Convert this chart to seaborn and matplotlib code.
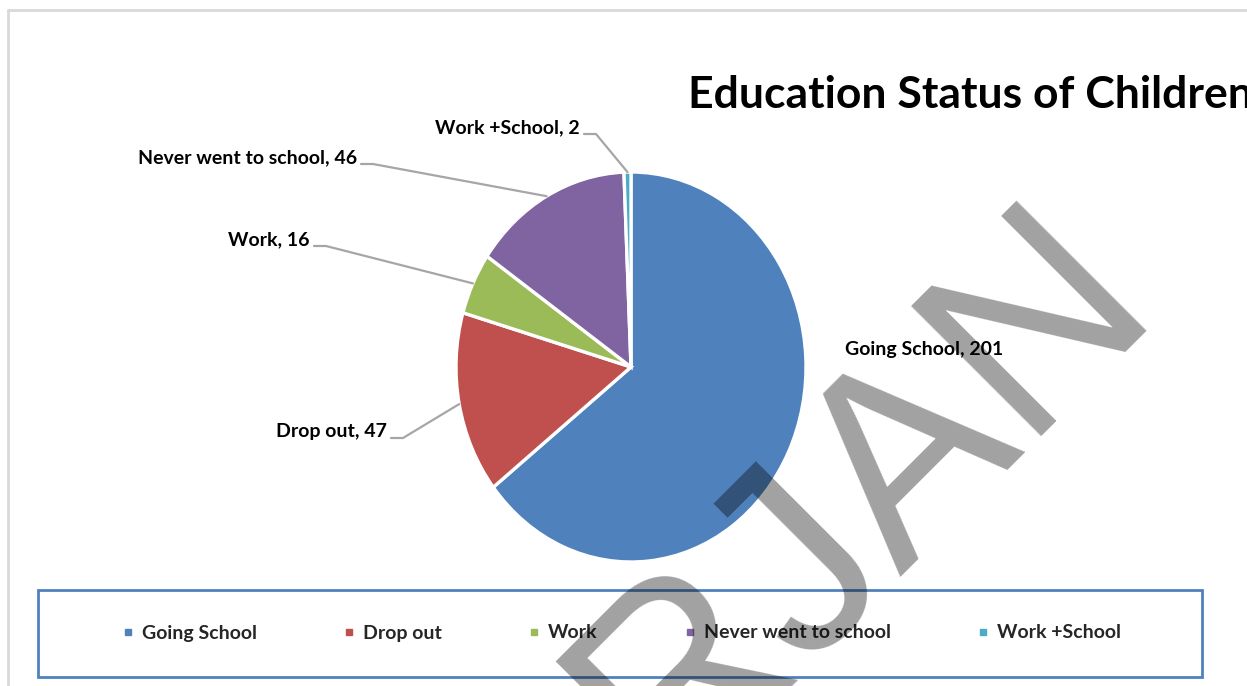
import numpy as np
import matplotlib
matplotlib.use("Agg")
import matplotlib.pyplot as plt
from matplotlib.lines import Line2D
from matplotlib.patches import Rectangle
import seaborn as sns

# ---------------- data ----------------
categories = ["Going School", "Drop out", "Work", "Never went to school", "Work +School"]
values = [201, 47, 16, 46, 2]
colors = ["#4F81BD", "#C0504D", "#9BBB59", "#8064A2", "#4BACC6"]
title_text = "Education Status of Children"
watermark_text = "RJAN"

sns.set_theme(style="white")
plt.rcParams["font.family"] = ["Lato", "DejaVu Sans"]

W, H = 1247, 686
fig = plt.figure(figsize=(W / 100, H / 100), dpi=100)
fig.patch.set_facecolor("white")

def fx(px):
    return px / W

def fy(py):
    return 1 - py / H

# outer light frame
fig.add_artist(Line2D([fx(8), 1], [fy(10), fy(10)], color="#D9D9D9", lw=2))
fig.add_artist(Line2D([fx(8), fx(8)], [fy(10), 0], color="#D9D9D9", lw=2))

# pie axes (slightly elliptical as in the reference)
cx, cy, rx, ry = 631, 367, 175, 195
ax = fig.add_axes([fx(cx - rx), fy(cy + ry), 2 * rx / W, 2 * ry / H])
wedges, _ = ax.pie(values, colors=colors, startangle=90, counterclock=False,
                   wedgeprops=dict(edgecolor="white", linewidth=2.4))
ax.set_aspect("auto")
ax.set_xlim(-1, 1)
ax.set_ylim(-1, 1)
ax.axis("off")

# data labels
label_pos = {
    # name: (text anchor x px, text center y px, ha, leader)
    "Going School": (845, 350, "left", False),
    "Drop out": (387, 432, "right", True),
    "Work": (310, 240, "right", True),
    "Never went to school": (357, 158, "right", True),
    "Work +School": (580, 128, "right", True),
}
fig.canvas.draw()
for w, cat, val in zip(wedges, categories, values):
    tx, ty, ha, leader = label_pos[cat]
    fig.text(fx(tx), fy(ty), f"{cat}, {val}", ha=ha, va="center",
             fontsize=14, fontweight="bold", color="black")
    if leader:
        ang = np.deg2rad((w.theta1 + w.theta2) / 2)
        px, py = ax.transData.transform((np.cos(ang), np.sin(ang)))
        ly = ty + 6
        xs = [tx + 4, tx + 16, px]
        ys = [ly, ly, H - py]
        fig.add_artist(Line2D([fx(x) for x in xs], [fy(y) for y in ys],
                              color="#A6A6A6", lw=1.6))

# title
fig.text(fx(688), fy(95), title_text, ha="left", va="center",
         fontsize=32, fontweight="bold", color="black")

# legend box + legend
fig.add_artist(Rectangle((fx(38), fy(677)), fx(1202) - fx(38), fy(590) - fy(677),
                         fill=False, edgecolor="#4F81BD", lw=2))
handles = [Line2D([], [], marker="s", ls="", color=c, markersize=5) for c in colors]
fig.legend(handles, categories, loc="center", bbox_to_anchor=(fx(622), fy(633)),
           ncol=5, frameon=False, handlelength=0.5, handletextpad=0.47,
           columnspacing=4.5, prop=dict(size=14, weight="bold"))

# watermark
fig.text(fx(910), fy(546), watermark_text, ha="center", va="baseline",
         rotation=45, rotation_mode="anchor", fontsize=192,
         family=["Liberation Sans", "DejaVu Sans"], color="black", alpha=0.37,
         zorder=20)

fig.savefig("out.png", dpi=100)
